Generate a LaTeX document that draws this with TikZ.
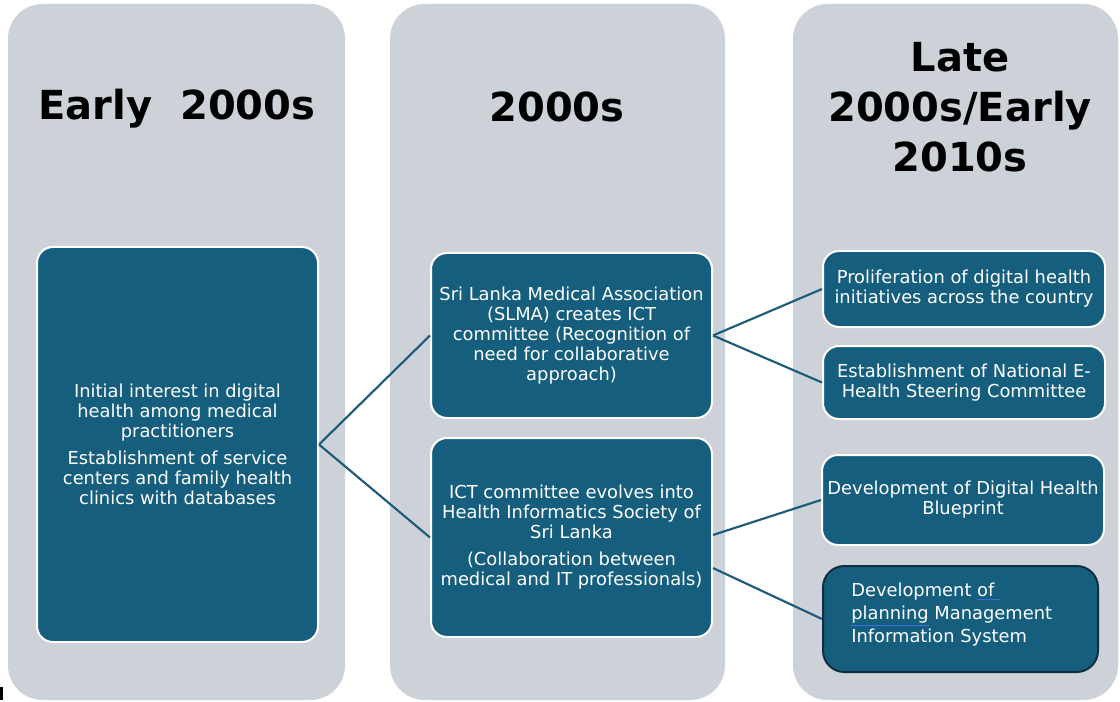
\documentclass[tikz,border=0pt]{standalone}
\usepackage{fontspec}
\setmainfont{DejaVu Sans}
\usetikzlibrary{positioning}
\definecolor{panelgrey}{HTML}{CDD2D9}
\definecolor{boxteal}{HTML}{165E7E}
\definecolor{linkteal}{HTML}{1D5B7A}
\definecolor{darkrim}{HTML}{0F2E3F}
\definecolor{ulblue}{HTML}{3B6FE0}
\newcommand{\blueul}[1]{\textcolor{ulblue}{\underline{\textcolor{white}{#1}}}}
\tikzset{
  panel/.style={fill=panelgrey, draw=none, rounded corners=26pt},
  heading/.style={font=\fontsize{30pt}{37.5pt}\selectfont\bfseries, text=black, align=center},
  stagebox/.style={fill=boxteal, draw=white, line width=1.5pt, rounded corners=12pt,
    text=white, align=center, inner sep=2pt,
    font=\fontsize{13.4pt}{15pt}\selectfont},
  link/.style={draw=linkteal, line width=1.6pt}
}
\begin{document}
\begin{tikzpicture}[x=0.75pt, y=-0.75pt]
\useasboundingbox (0,0) rectangle (1120,702);
\fill[white] (0,0) rectangle (1120,702);

% three period columns
\path[panel] (8,4) rectangle (345,700);
\path[panel] (390,4) rectangle (725,700);
\path[panel] (793,4) rectangle (1118,700);
\fill[black] (0,687) rectangle (2.5,700);

% column headings
\node[heading] (h1) at (177,109) {Early\ \ 2000s};
\node[heading] (h2) at (557,107) {2000s};
\node[heading] (h3) at (960,107) {Late\\2000s/Early\\2010s};

% stage boxes
\node[stagebox, minimum width=210.75pt, minimum height=296.25pt] (A) at (177.5,444.5)
  {Initial interest in digital\\health among medical\\practitioners\\[5.25pt]
   Establishment of service\\centers and family health\\clinics with databases};
\node[stagebox, minimum width=210.75pt, minimum height=123.75pt] (B) at (571.5,335.5)
  {Sri Lanka Medical Association\\(SLMA) creates ICT\\committee (Recognition of\\need for collaborative\\approach)};
\node[stagebox, minimum width=210.75pt, minimum height=149.25pt] (C) at (571.5,537.5)
  {ICT committee evolves into\\Health Informatics Society of\\Sri Lanka\\[5.25pt]
   (Collaboration between\\medical and IT professionals)};
\node[stagebox, minimum width=211.5pt, minimum height=57pt] (D) at (964,289)
  {Proliferation of digital health\\initiatives across the country};
\node[stagebox, minimum width=211.5pt, minimum height=54.75pt] (E) at (964,382.5)
  {Establishment of National E-\\Health Steering Committee};
\node[stagebox, minimum width=211.5pt, minimum height=67.5pt] (F) at (963,500)
  {Development of Digital Health\\Blueprint};
\node[stagebox, draw=darkrim, rounded corners=16pt, minimum width=206.25pt, minimum height=79.5pt] (G) at (960.5,619) {};
\node[anchor=north west, text=white, align=left, inner sep=0pt,
      font=\fontsize{13.4pt}{17.25pt}\selectfont] (Gtext) at (851,583)
  {Development \blueul{of\ }\\\blueul{planning} Management\\Information System};

% connectors
\draw[link] (A.east) -- (B.west);
\draw[link] (A.east) -- (C.west);
\draw[link] (B.east) -- (D.west);
\draw[link] (B.east) -- (E.west);
\draw[link] ([yshift=1.9pt]C.east) -- (F.west);
\draw[link] ([yshift=-22.9pt]C.east) -- (G.west);
\end{tikzpicture}
\end{document}
